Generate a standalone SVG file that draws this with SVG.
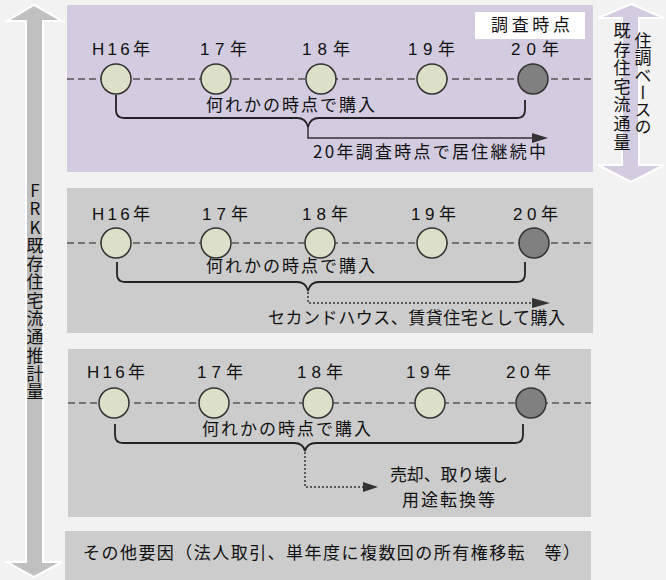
<svg xmlns="http://www.w3.org/2000/svg" width="666" height="580" viewBox="0 0 666 580">
<style>
.jp{font-family:"Noto Sans CJK JP","Liberation Sans",sans-serif;font-size:17px;fill:#111}
.yr{font-family:"Liberation Sans","Noto Sans CJK JP",sans-serif;font-size:17px;fill:#111}
.tl{stroke:#555;stroke-width:1.5;stroke-dasharray:7 4;fill:none}
.pt{fill:#dde0c8;stroke:#333;stroke-width:1.5}
.now{fill:#808080;stroke:#333;stroke-width:1.5}
.br{fill:none;stroke:#222;stroke-width:1.8}
.sol{fill:none;stroke:#333;stroke-width:1.5}
.dot{fill:none;stroke:#333;stroke-width:1.5;stroke-dasharray:2 2}
.hd{fill:#333}
.vt{font-family:"Noto Sans CJK JP",sans-serif;font-size:17px;fill:#111;writing-mode:vertical-rl;text-orientation:upright}
</style>
<rect width="666" height="580" fill="#f2f2f2"/>
<g id="total-arrow">
<polygon points="34,5 62,21 43,21 43,562 62,562 34,577 7,562 26,562 26,21 7,21" fill="#c0c0c0" stroke="#fff" stroke-width="2"/>
<text class="vt" x="35" y="182" letter-spacing="1.3">FRK既存住宅流通推計量</text>
</g>
<g id="survey-arrow">
<polygon points="631,4 664,18 639,18 639,165 664,165 631,182 598,165 622,165 622,18 598,18" fill="#d3cbe0" stroke="#fff" stroke-width="2"/>
<text class="vt" x="643" y="32" letter-spacing="0.3">住調ベースの</text>
<text class="vt" x="622" y="22" letter-spacing="1.6">既存住宅流通量</text>
</g>
<g id="panel1">
<rect x="67" y="5" width="526" height="167" fill="#d3cbe0"/>
<rect x="475" y="12" width="110" height="27" fill="#fff"/>
<text class="jp" x="491" y="31" textLength="79" lengthAdjust="spacing">調査時点</text>
<line class="tl" x1="67" y1="79" x2="593" y2="79"/>
<text class="yr" x="92" y="55" textLength="58" lengthAdjust="spacing">H16年</text>
<text class="yr" x="200" y="55" textLength="47" lengthAdjust="spacing">17年</text>
<text class="yr" x="302" y="55" textLength="48" lengthAdjust="spacing">18年</text>
<text class="yr" x="408" y="55" textLength="47" lengthAdjust="spacing">19年</text>
<text class="yr" x="511" y="55" textLength="48" lengthAdjust="spacing">20年</text>
<circle class="pt" cx="116" cy="79" r="15"/>
<circle class="pt" cx="216" cy="79" r="15"/>
<circle class="pt" cx="321" cy="79" r="15"/>
<circle class="pt" cx="432" cy="79" r="15"/>
<circle class="now" cx="533" cy="79" r="15"/>
<text class="jp" x="206" y="111" textLength="169" lengthAdjust="spacing">何れかの時点で購入</text>
<text class="jp" x="313" y="158" textLength="233" lengthAdjust="spacing">20年調査時点で居住継続中</text>
</g>
<g id="panel2">
<rect x="67" y="188" width="526" height="145" fill="#cccccc"/>
<line class="tl" x1="67" y1="243" x2="593" y2="243"/>
<text class="yr" x="92" y="220" textLength="58" lengthAdjust="spacing">H16年</text>
<text class="yr" x="202" y="220" textLength="46" lengthAdjust="spacing">17年</text>
<text class="yr" x="302" y="220" textLength="46" lengthAdjust="spacing">18年</text>
<text class="yr" x="411" y="220" textLength="45" lengthAdjust="spacing">19年</text>
<text class="yr" x="513" y="220" textLength="45" lengthAdjust="spacing">20年</text>
<circle class="pt" cx="116" cy="243" r="15"/>
<circle class="pt" cx="216" cy="243" r="15"/>
<circle class="pt" cx="320" cy="243" r="15"/>
<circle class="pt" cx="432" cy="243" r="15"/>
<circle class="now" cx="534" cy="243" r="15"/>
<text class="jp" x="206" y="272" textLength="169" lengthAdjust="spacing">何れかの時点で購入</text>
<text class="jp" x="268" y="324" textLength="297" lengthAdjust="spacing">セカンドハウス、賃貸住宅として購入</text>
</g>
<g id="panel3">
<rect x="68" y="349" width="523" height="168" fill="#cccccc"/>
<line class="tl" x1="68" y1="403" x2="591" y2="403"/>
<text class="yr" x="87" y="378" textLength="58" lengthAdjust="spacing">H16年</text>
<text class="yr" x="197" y="378" textLength="46" lengthAdjust="spacing">17年</text>
<text class="yr" x="297" y="378" textLength="46" lengthAdjust="spacing">18年</text>
<text class="yr" x="406" y="378" textLength="45" lengthAdjust="spacing">19年</text>
<text class="yr" x="506" y="378" textLength="45" lengthAdjust="spacing">20年</text>
<circle class="pt" cx="114" cy="403" r="15"/>
<circle class="pt" cx="214" cy="403" r="15"/>
<circle class="pt" cx="318" cy="403" r="15"/>
<circle class="pt" cx="430" cy="403" r="15"/>
<circle class="now" cx="531" cy="403" r="15"/>
<text class="jp" x="202" y="435" textLength="169" lengthAdjust="spacing">何れかの時点で購入</text>
<text class="jp" x="390" y="481" textLength="118" lengthAdjust="spacing">売却、取り壊し</text>
<text class="jp" x="402" y="506" textLength="93" lengthAdjust="spacing">用途転換等</text>
</g>
<g id="panel4">
<rect x="65" y="531" width="526" height="49" fill="#cccccc"/>
<text class="jp" x="83" y="559" textLength="497" lengthAdjust="spacing">その他要因（法人取引、単年度に複数回の所有権移転　等）</text>
</g>
<g id="connectors">
<path class="br" d="M116,95 V110 Q116,118 124,118 H297 Q306,118 308,127 Q310,118 319,118 H517 Q525,118 525,110 V100"/>
<path class="sol" d="M308,127 V138 H533"/>
<polygon class="hd" points="532,133 548,138 532,143"/>
<path class="br" d="M117,262 V274 Q117,282 125,282 H297 Q306,282 308,291 Q310,282 319,282 H517 Q525,282 525,274 V262"/>
<path class="dot" d="M308,292 V303 H533"/>
<polygon class="hd" points="532,298 550,303 532,308"/>
<path class="br" d="M115,424 V435 Q115,443 123,443 H294 Q303,443 305,451 Q307,443 316,443 H515 Q523,443 523,435 V424"/>
<path class="dot" d="M305,452 V487 H364"/>
<polygon class="hd" points="363,482 378,487 363,492"/>
</g>
</svg>
